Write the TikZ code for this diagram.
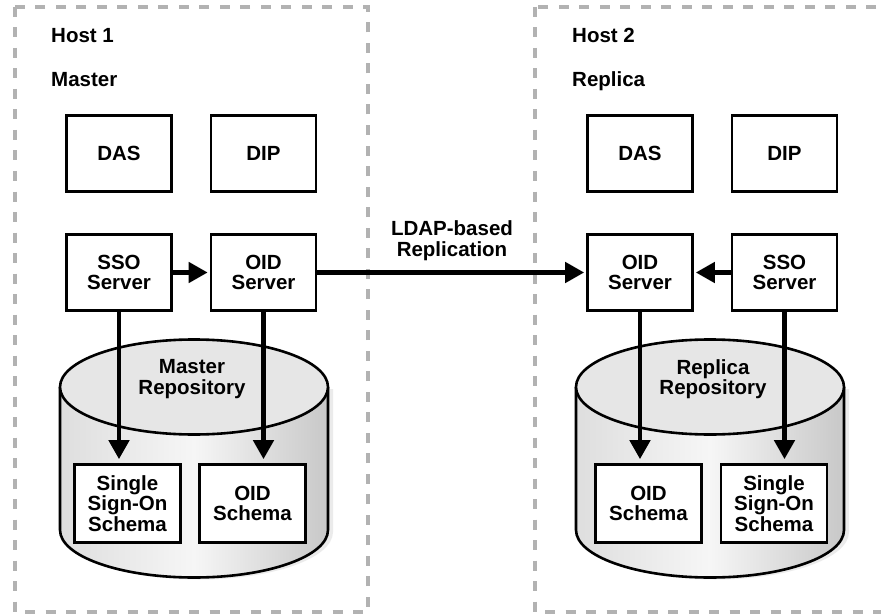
\documentclass[tikz,border=0pt]{standalone}
\usepackage{fontspec}
\setmainfont{Liberation Sans}
\usetikzlibrary{arrows.meta}
\definecolor{dashgray}{RGB}{178,178,178}
\definecolor{cylleft}{RGB}{222,222,222}
\definecolor{cylmid}{RGB}{246,246,246}
\definecolor{cylright}{RGB}{200,200,200}
\definecolor{cyltopfill}{RGB}{230,230,230}
\tikzset{
  lbl/.style={font=\bfseries\fontsize{20.5}{20.5}\selectfont, inner sep=0pt, align=center},
  srvbox/.style={lbl, draw, line width=2.6pt, fill=white, minimum width=105pt, minimum height=76pt},
  schbox/.style={lbl, draw, line width=2.6pt, fill=white, minimum width=106pt, minimum height=78pt},
  hostframe/.style={draw=dashgray, line width=4.5pt, dash pattern=on 10pt off 10.5pt},
  conn/.style={line width=4.5pt, -{Triangle[length=19pt,width=20pt]}},
  cylbody/.style={line width=2.6pt, left color=cylleft, right color=cylright, middle color=cylmid},
  cyltop/.style={line width=2.6pt, fill=cyltopfill}
}
\newcommand{\mycyl}[1]{%
  \fill[gray!30, opacity=0.5] (#1-134+5,-387-2) -- (#1-134+5,-530-2) arc[start angle=180,end angle=360,x radius=134,y radius=47.5] -- (#1+134+5,-387-2) -- cycle;
  \shade[left color=cylleft, right color=cylright, middle color=cylmid] (#1-134,-387) -- (#1-134,-530) arc[start angle=180,end angle=360,x radius=134,y radius=47.5] -- (#1+134,-387) -- cycle;
  \draw[line width=2.6pt] (#1-134,-387) -- (#1-134,-530) arc[start angle=180,end angle=360,x radius=134,y radius=47.5] -- (#1+134,-387);
  \draw[cyltop] (#1,-387) ellipse[x radius=134, y radius=47.5];
}
\begin{document}
\begin{tikzpicture}[x=1pt,y=1pt]
\useasboundingbox (0,0) rectangle (881,-615);
\clip (0,0) rectangle (881,-615);
\fill[white] (0,0) rectangle (881,-615);
% host frames
\draw[hostframe] (15,-7) rectangle (368,-612);
\draw[hostframe] (535,-7) rectangle (900,-612);
% titles
\node[lbl, anchor=base west] (h1) at (51,-43) {Host 1};
\node[lbl, anchor=base west] (m1) at (51,-87) {Master};
\node[lbl, anchor=base west] (h2) at (572,-43) {Host 2};
\node[lbl, anchor=base west] (r2) at (572,-87) {Replica};
% cylinders
\mycyl{194}
\mycyl{710}
\node[lbl] (mrep) at (192,-379) {Master\\Repository};
\node[lbl] (rrep) at (713,-379) {Replica\\Repository};
% boxes host 1
\node[srvbox] (das1) at (119,-153.5) {DAS};
\node[srvbox] (dip1) at (263.5,-153.5) {DIP};
\node[srvbox] (sso1) at (119,-272.5) {SSO\\Server};
\node[srvbox] (oid1) at (263.5,-272.5) {OID\\Server};
\node[schbox] (ssos1) at (127.5,-503.5) {Single\\Sign-On\\Schema};
\node[schbox] (oids1) at (252.5,-503.5) {OID\\Schema};
% boxes host 2
\node[srvbox] (das2) at (640,-153.5) {DAS};
\node[srvbox] (dip2) at (784.5,-153.5) {DIP};
\node[srvbox] (oid2) at (640,-272.5) {OID\\Server};
\node[srvbox] (sso2) at (784.5,-272.5) {SSO\\Server};
\node[schbox] (oids2) at (648.5,-503.5) {OID\\Schema};
\node[schbox] (ssos2) at (774,-503.5) {Single\\Sign-On\\Schema};
% replication label
\node[lbl] (ldap) at (452,-240.6) {LDAP-based\\Replication};
% connectors
\draw[conn, shorten >=2pt] (sso1.east) -- (oid1.west);
\draw[conn, shorten >=2pt] (oid1.east) -- (oid2.west);
\draw[conn, shorten >=2pt] (sso2.west) -- (oid2.east);
\draw[conn, shorten >=4pt] (sso1.south) -- (sso1.south |- ssos1.north);
\draw[conn, shorten >=4pt] (oid1.south) -- (oid1.south |- oids1.north);
\draw[conn, shorten >=4pt] (oid2.south) -- (oid2.south |- oids2.north);
\draw[conn, shorten >=4pt] (sso2.south) -- (sso2.south |- ssos2.north);
\end{tikzpicture}
\end{document}
